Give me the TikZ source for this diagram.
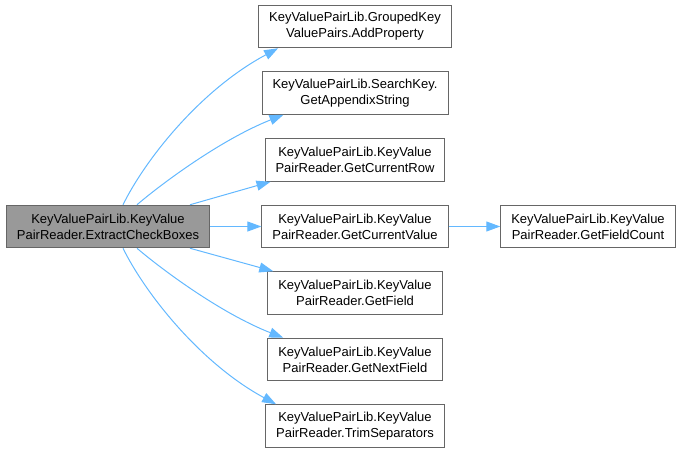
\documentclass[tikz,border=0pt]{standalone}
\usepackage{fontspec}
\setmainfont{Liberation Sans}
\usetikzlibrary{arrows.meta}
\definecolor{edgeblue}{HTML}{63B8FF}
\definecolor{boxborder}{HTML}{666666}
\definecolor{mainfill}{HTML}{999999}
\begin{document}
\begin{tikzpicture}[x=1pt,y=-1pt,
  box/.style={draw=boxborder,line width=1pt,fill=white,align=center,
    font=\fontsize{13}{16}\selectfont,inner xsep=10.5pt,inner ysep=0pt,
    minimum height=42.5pt},
  mainbox/.style={box,fill=mainfill},
  edge/.style={draw=edgeblue,line width=1pt,-{Triangle[length=14pt,width=10pt]}}]
\useasboundingbox (0,0) rectangle (683,453);
\node[mainbox] (main) at (108,226.5) {KeyValuePairLib.KeyValue\\PairReader.ExtractCheckBoxes};
\node[box] (n1) at (355,26.5) {KeyValuePairLib.GroupedKey\\ValuePairs.AddProperty};
\node[box] (n2) at (355,93) {KeyValuePairLib.SearchKey.\\GetAppendixString};
\node[box] (n3) at (355,160) {KeyValuePairLib.KeyValue\\PairReader.GetCurrentRow};
\node[box] (n4) at (355,226.5) {KeyValuePairLib.KeyValue\\PairReader.GetCurrentValue};
\node[box] (n5) at (355,293) {KeyValuePairLib.KeyValue\\PairReader.GetField};
\node[box] (n6) at (355,359.5) {KeyValuePairLib.KeyValue\\PairReader.GetNextField};
\node[box] (n7) at (355,426) {KeyValuePairLib.KeyValue\\PairReader.TrimSeparators};
\node[box] (n8) at (588,226.5) {KeyValuePairLib.KeyValue\\PairReader.GetFieldCount};

\draw[edge] ([xshift=15pt]main.north) .. controls (145,160) and (200,90) .. ([xshift=20pt]n1.south west);
\draw[edge] ([xshift=29pt]main.north) .. controls (160,185) and (220,140) .. ([xshift=22pt]n2.south west);
\draw[edge] ([xshift=82pt]main.north) -- ([xshift=6pt]n3.south west);
\draw[edge] (main.east) -- (n4.west);
\draw[edge] ([xshift=82pt]main.south) -- ([xshift=6pt]n5.north west);
\draw[edge] ([xshift=29pt]main.south) .. controls (160,268) and (220,313) .. ([xshift=16pt]n6.north west);
\draw[edge] ([xshift=15pt]main.south) .. controls (145,293) and (200,363) .. ([xshift=11pt]n7.north west);
\draw[edge] (n4.east) -- (n8.west);
\end{tikzpicture}
\end{document}
